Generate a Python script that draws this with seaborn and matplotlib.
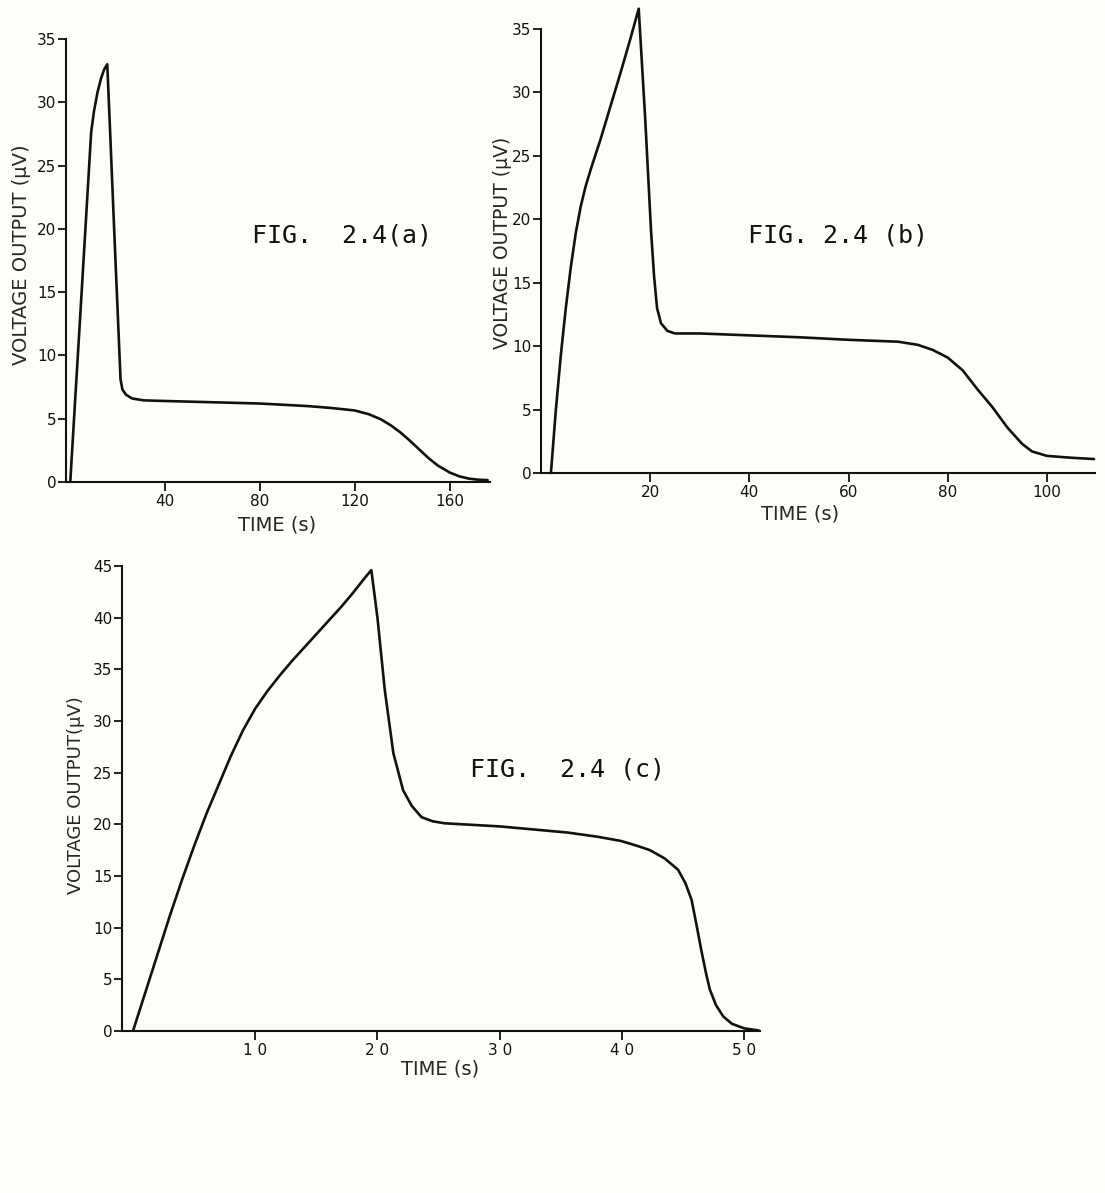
import matplotlib
matplotlib.use("Agg")
import matplotlib.pyplot as plt
import seaborn as sns

# -------------------------------
# DATA
# -------------------------------

# FIG 2.4 (a)
time_a = [0, 2, 4, 6, 8.8, 10, 11.5, 13, 14.3, 15.6, 17, 18.5, 20, 21.2, 22, 23.5, 26, 31,
          40, 60, 80, 100, 110, 120, 126, 131, 135, 139, 143, 147, 151, 155, 160, 164, 168, 172, 176]
volt_a = [0, 6.3, 12.5, 18.8, 27.6, 29.3, 30.8, 31.9, 32.6, 33.0, 26.8, 20.0, 13.4, 8.1, 7.3, 6.9, 6.6, 6.45,
          6.4, 6.3, 6.2, 6.0, 5.85, 5.65, 5.35, 4.95, 4.5, 3.95, 3.3, 2.6, 1.9, 1.3, 0.75, 0.45, 0.27, 0.18, 0.15]

# FIG 2.4 (b)
time_b = [0, 1, 2, 3, 4, 5, 6, 7, 8, 9, 10, 12, 14, 16, 17.7, 19, 20.2, 20.8, 21.4, 22.2, 23.5, 25,
          30, 40, 50, 60, 70, 74, 77, 80, 83, 86, 89, 92, 95, 97, 100, 105, 109.5]
volt_b = [0, 5.0, 9.3, 13.0, 16.2, 18.9, 21.0, 22.6, 23.9, 25.1, 26.3, 28.9, 31.5, 34.2, 36.6, 28, 19, 15.5, 13,
          11.8, 11.2, 11.0,
          11.0, 10.85, 10.7, 10.5, 10.35, 10.1, 9.7, 9.1, 8.1, 6.6, 5.2, 3.6, 2.3, 1.7, 1.35, 1.2, 1.1]

# FIG 2.4 (c)
time_c = [0, 1, 2, 3, 4, 5, 6, 7, 8, 9, 10, 11, 12, 13, 14, 15, 16, 17, 18, 19, 19.5,
          20, 20.6, 21.3, 22.1, 22.8, 23.6, 24.5, 25.5, 30, 35.6, 38, 39.9, 41.3, 42.3, 43.5, 44.6,
          45.2, 45.7, 46.1, 46.5, 46.9, 47.2, 47.7, 48.3, 49, 50, 51.2]
volt_c = [0, 3.7, 7.4, 11.1, 14.6, 17.9, 21.0, 23.8, 26.6, 29.1, 31.2, 32.9, 34.4, 35.8, 37.1, 38.4, 39.7,
          41.0, 42.4, 43.9, 44.6,
          40, 33, 26.9, 23.3, 21.8, 20.7, 20.3, 20.1, 19.8, 19.2, 18.8, 18.4, 17.9, 17.5, 16.7, 15.6,
          14.3, 12.7, 10.3, 7.8, 5.5, 4.0, 2.5, 1.4, 0.7, 0.26, 0.05]

xticks_a = [40, 80, 120, 160]
xticks_b = [20, 40, 60, 80, 100]
xticks_c = [10, 20, 30, 40, 50]
xticklabels_c = ["1 0", "2 0", "3 0", "4 0", "5 0"]

# -------------------------------
# STYLE
# -------------------------------

sns.set_style("ticks")
plt.rcParams['font.family'] = ['DejaVu Sans']

W, H = 1105, 1193
fig = plt.figure(figsize=(W / 100, H / 100), dpi=100)
fig.patch.set_facecolor("#fefdf7")


def px_axes(left, top, right, bottom):
    return fig.add_axes([left / W, 1 - bottom / H, (right - left) / W, (bottom - top) / H])


def style(ax, xlim, ylim, xticks, yticks, xtl=None):
    ax.set_facecolor("none")
    ax.set_xlim(*xlim)
    ax.set_ylim(*ylim)
    ax.set_xticks(xticks)
    if xtl is not None:
        ax.set_xticklabels(xtl)
    ax.set_yticks(yticks)
    sns.despine(ax=ax)
    for s in ["left", "bottom"]:
        ax.spines[s].set_linewidth(1.5)
        ax.spines[s].set_color("#111111")
    ax.tick_params(direction="out", length=6.5, width=1.3, labelsize=11, pad=2, colors="#111111")
    ax.tick_params(axis="y", length=6, pad=1)
    ax.grid(False)


line_kw = dict(color="#111111", linewidth=1.9, sort=False, estimator=None)

# -------------------------------
# (a)
# -------------------------------
ax_a = px_axes(66, 39, 490, 482)
sns.lineplot(x=time_a, y=volt_a, ax=ax_a, **line_kw)
style(ax_a, (-1.8, 177), (0, 35), xticks_a, range(0, 36, 5))
ax_a.set_xlabel("TIME (s)", fontsize=14)
ax_a.set_ylabel("VOLTAGE OUTPUT (µV)", fontsize=14)
ax_a.xaxis.set_label_coords((277 - 66) / 424, -0.097)
ax_a.yaxis.set_label_coords((22 - 66) / 424, 0.512)
ax_a.xaxis.label.set_va("center")
ax_a.yaxis.label.set_va("center")

# -------------------------------
# (b)
# -------------------------------
ax_b = px_axes(541, 29, 1095, 473)
sns.lineplot(x=time_b, y=volt_b, ax=ax_b, **line_kw)
ax_b.lines[-1].set_clip_on(False)
style(ax_b, (-2, 109.7), (0, 35), xticks_b, range(0, 36, 5))
ax_b.set_xlabel("TIME (s)", fontsize=14)
ax_b.set_ylabel("VOLTAGE OUTPUT (µV)", fontsize=13.5)
ax_b.xaxis.set_label_coords((800 - 541) / 554, -0.092)
ax_b.yaxis.set_label_coords((502 - 541) / 554, 0.519)
ax_b.xaxis.label.set_va("center")
ax_b.yaxis.label.set_va("center")

# -------------------------------
# (c)
# -------------------------------
ax_c = px_axes(122, 566, 760, 1031)
sns.lineplot(x=time_c, y=volt_c, ax=ax_c, **line_kw)
style(ax_c, (-0.9, 51.3), (0, 45), xticks_c, range(0, 46, 5), xticklabels_c)
ax_c.set_xlabel("TIME (s)", fontsize=14)
ax_c.set_ylabel("VOLTAGE OUTPUT(µV)", fontsize=13)
ax_c.xaxis.set_label_coords((440 - 122) / 638, -0.082)
ax_c.yaxis.set_label_coords((76 - 122) / 638, 0.508)
ax_c.xaxis.label.set_va("center")
ax_c.yaxis.label.set_va("center")

# figure captions (typewriter)
mono = dict(family="DejaVu Sans Mono", fontsize=18, va="center", ha="left", color="#111111")
fig.text(252 / W, 1 - 236 / H, "FIG.  2.4(a)", **mono)
fig.text(748 / W, 1 - 235 / H, "FIG. 2.4 (b)", **mono)
fig.text(470 / W, 1 - 769 / H, "FIG.  2.4 (c)", **mono)

fig.savefig("out.png", dpi=100, facecolor=fig.get_facecolor())
